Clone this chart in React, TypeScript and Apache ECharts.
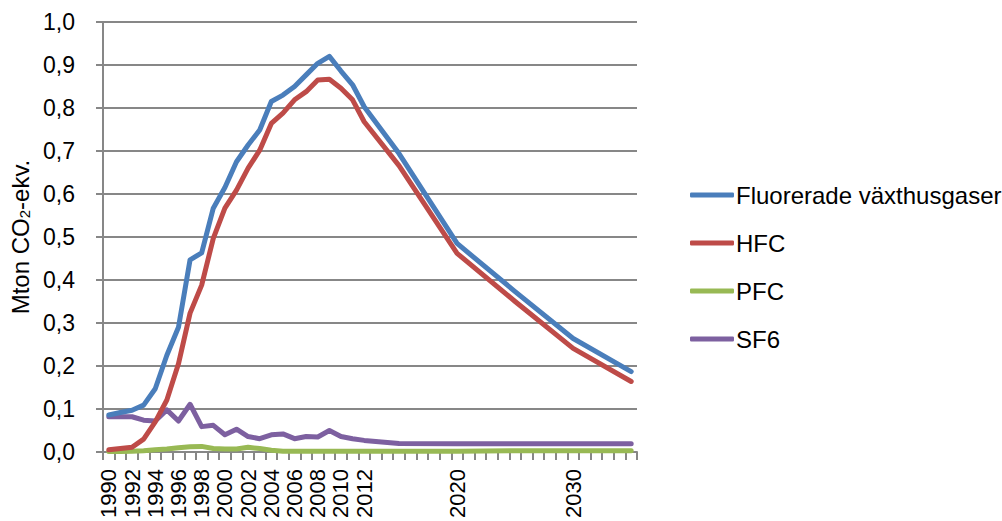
import React, { useEffect, useRef } from "react";
import * as echarts from "echarts";

const years: string[] = [
  "1990", "1991", "1992", "1993", "1994", "1995", "1996", "1997", "1998", "1999",
  "2000", "2001", "2002", "2003", "2004", "2005", "2006", "2007", "2008", "2009",
  "2010", "2011", "2012", "2013", "2014", "2015", "2016", "2017", "2018", "2019",
  "2020", "2021", "2022", "2023", "2024", "2025", "2026", "2027", "2028", "2029",
  "2030", "2031", "2032", "2033", "2034", "2035",
];

const shownLabels: string[] = [
  "1990", "1992", "1994", "1996", "1998", "2000", "2002", "2004", "2006", "2008",
  "2010", "2012", "2020", "2030",
];

const yTicks: number[] = [0, 0.1, 0.2, 0.3, 0.4, 0.5, 0.6, 0.7, 0.8, 0.9, 1.0];

// 1990–2012 yearly, then 2015, 2020, 2025, 2030, 2035 (null = no value)
const fluorerade: (number | null)[] = [
  0.086, 0.092, 0.097, 0.109, 0.147, 0.225, 0.29, 0.447, 0.463, 0.567,
  0.615, 0.675, 0.714, 0.749, 0.815, 0.83, 0.85, 0.877, 0.904, 0.92,
  0.886, 0.854, 0.803, null, null, 0.694, null, null, null, null,
  0.485, null, null, null, null, 0.373, null, null, null, null,
  0.264, null, null, null, null, 0.187,
];

const hfc: (number | null)[] = [
  0.005, 0.008, 0.011, 0.03, 0.07, 0.121, 0.205, 0.323, 0.388, 0.497,
  0.567, 0.609, 0.66, 0.702, 0.764, 0.788, 0.819, 0.838, 0.865, 0.867,
  0.846, 0.819, 0.768, null, null, 0.666, null, null, null, null,
  0.462, null, null, null, null, 0.35, null, null, null, null,
  0.241, null, null, null, null, 0.164,
];

const pfc: (number | null)[] = [
  0.001, 0.001, 0.002, 0.003, 0.005, 0.007, 0.01, 0.012, 0.013, 0.008,
  0.007, 0.007, 0.011, 0.008, 0.004, 0.002, 0.002, 0.002, 0.002, 0.002,
  0.002, 0.002, 0.002, null, null, 0.002, null, null, null, null,
  0.002, null, null, null, null, 0.003, null, null, null, null,
  0.003, null, null, null, null, 0.003,
];

const sf6: (number | null)[] = [
  0.082, 0.082, 0.082, 0.074, 0.072, 0.098, 0.072, 0.111, 0.059, 0.062,
  0.04, 0.053, 0.036, 0.031, 0.04, 0.042, 0.031, 0.036, 0.035, 0.05,
  0.036, 0.031, 0.027, null, null, 0.02, null, null, null, null,
  0.019, null, null, null, null, 0.019, null, null, null, null,
  0.019, null, null, null, null, 0.019,
];

const seriesNames: string[] = ["Fluorerade växthusgaser", "HFC", "PFC", "SF6"];
const seriesColors: string[] = ["#4A7EBB", "#BE4B48", "#98B954", "#7D60A0"];

const FONT = "'Liberation Sans', Arial, sans-serif";

export default function App() {
  const ref = useRef<HTMLDivElement>(null);

  useEffect(() => {
    if (!ref.current) return;
    const chart = echarts.init(ref.current, undefined, { renderer: "svg" });
    const dataSets = [fluorerade, hfc, pfc, sf6];
    const option: any = {
      animation: false,
      backgroundColor: "#ffffff",
      grid: { left: 103, right: 365, top: 22, bottom: 69, containLabel: false },
      legend: {
        orient: "vertical",
        left: 690,
        top: 183,
        padding: 0,
        icon: "roundRect",
        itemWidth: 44,
        itemHeight: 5,
        itemGap: 24,
        data: seriesNames,
        textStyle: { fontFamily: FONT, fontSize: 24, color: "#000", padding: [0, 0, 0, -3] },
      },
      xAxis: {
        type: "category",
        data: years,
        boundaryGap: true,
        axisLine: { show: true, lineStyle: { color: "#878787", width: 2 } },
        axisTick: { show: true, interval: 0, length: 8, lineStyle: { color: "#878787", width: 2 } },
        axisLabel: {
          interval: (_i: number, v: string) => shownLabels.indexOf(v) >= 0,
          rotate: 90,
          margin: 17,
          fontFamily: FONT,
          fontSize: 22,
          color: "#000",
        },
        splitLine: { show: false },
      },
      yAxis: {
        type: "value",
        min: yTicks[0],
        max: yTicks[yTicks.length - 1],
        interval: 0.1,
        name: "{a|Mton CO}{b|2}{a|-ekv.}",
        nameLocation: "middle",
        nameRotate: 90,
        nameGap: 70,
        nameTextStyle: {
          rich: {
            a: { fontFamily: FONT, fontSize: 24, color: "#000", lineHeight: 28, verticalAlign: "bottom" },
            b: { fontFamily: FONT, fontSize: 15, color: "#000", lineHeight: 12, verticalAlign: "bottom" },
          },
        },
        axisLine: { show: true, lineStyle: { color: "#878787", width: 2 } },
        axisTick: { show: true, length: 7, lineStyle: { color: "#878787", width: 2 } },
        axisLabel: {
          margin: 28,
          fontFamily: FONT,
          fontSize: 23,
          color: "#000",
          formatter: (v: number) => v.toFixed(1).replace(".", ","),
        },
        splitLine: { show: true, lineStyle: { color: "#878787", width: 2 } },
      },
      series: seriesNames.map((name, i) => ({
        name,
        type: "line",
        data: dataSets[i],
        connectNulls: true,
        symbol: "none",
        color: seriesColors[i],
        lineStyle: { color: seriesColors[i], width: 5, cap: "round", join: "round" },
        z: 10 - i,
      })),
    };
    chart.setOption(option);
    return () => chart.dispose();
  }, []);

  return <div ref={ref} style={{ width: 1002, height: 521, position: "fixed", left: 0, top: 0 }} />;
}
